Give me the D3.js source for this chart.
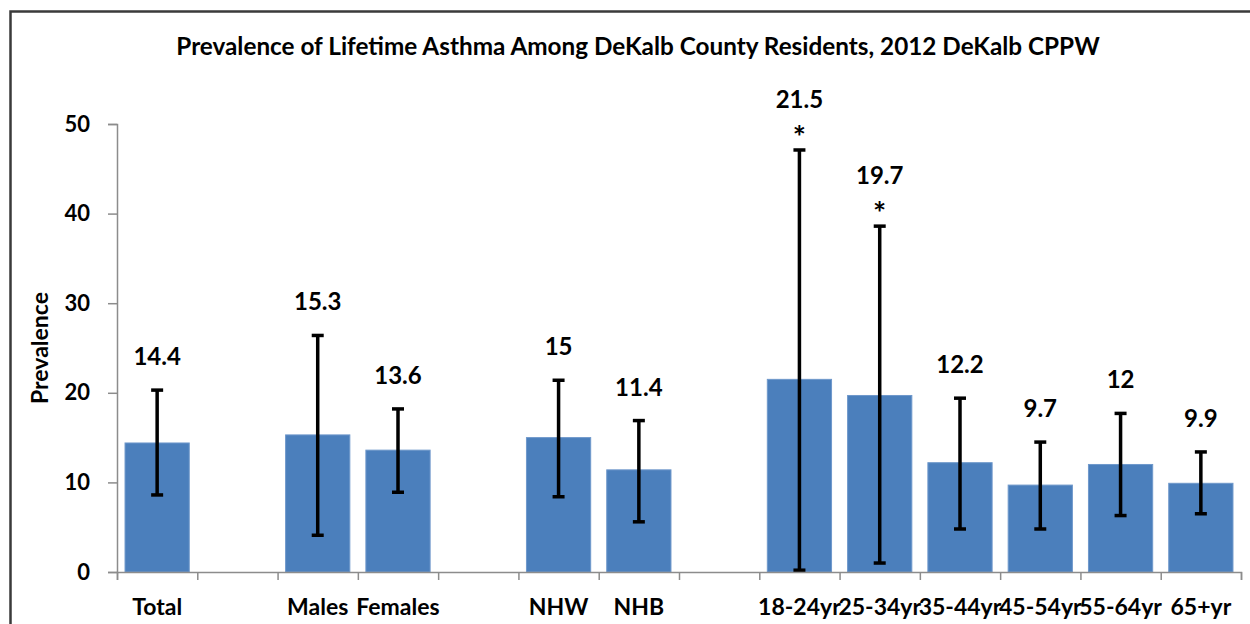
<!DOCTYPE html>
<html>
<head>
<meta charset="utf-8">
<script src="https://cdn.jsdelivr.net/npm/d3@7"></script>
<style>
  body { margin: 0; background: #fff; }
  text { font-family: Lato, "Open Sans", sans-serif; font-weight: bold; fill: #000; }
</style>
</head>
<body>
<div id="chart"></div>
<script>
// chart data
var categories = ["Total", "", "Males", "Females", "", "NHW", "NHB", "",
  "18-24yr", "25-34yr", "35-44yr", "45-54yr", "55-64yr", "65+yr"];
var prevalence = [14.4, null, 15.3, 13.6, null, 15, 11.4, null, 21.5, 19.7, 12.2, 9.7, 12, 9.9];
var ciLower = [8.6, null, 4.1, 8.9, null, 8.4, 5.6, null, 0.2, 1.0, 4.8, 4.8, 6.3, 6.5];
var ciUpper = [20.3, null, 26.4, 18.2, null, 21.4, 16.9, null, 47.1, 38.6, 19.4, 14.5, 17.7, 13.4];
var flags = ["", "", "", "", "", "", "", "", "*", "*", "", "", "", ""];
var valueLabels = ["14.4", "", "15.3", "13.6", "", "15", "11.4", "", "21.5", "19.7", "12.2", "9.7", "12", "9.9"];
var yTicks = [0, 10, 20, 30, 40, 50];

var svgWidth = 1250;
var svgHeight = 624;

var margin = { top: 124, right: 9, bottom: 52, left: 117 };
var width = svgWidth - margin.left - margin.right;
var height = svgHeight - margin.top - margin.bottom;

var svg = d3.select("#chart")
  .append("svg")
  .attr("width", svgWidth)
  .attr("height", svgHeight);

// outer frame (runs off the right and bottom edges)
svg.append("rect")
  .attr("x", 10.5)
  .attr("y", 11.5)
  .attr("width", 1300)
  .attr("height", 700)
  .attr("fill", "none")
  .attr("stroke", "#3a3a3a")
  .attr("stroke-width", 2.5);

svg.append("text")
  .attr("x", 638)
  .attr("y", 55)
  .attr("text-anchor", "middle")
  .style("font-size", "24.3px")
  .text("Prevalence of Lifetime Asthma Among DeKalb County Residents, 2012 DeKalb CPPW");

var chartGroup = svg.append("g")
  .attr("transform", `translate(${margin.left}, ${margin.top})`);

var idx = d3.range(categories.length);

var x = d3.scaleBand()
  .domain(idx)
  .range([0, width])
  .paddingInner(0.2)
  .paddingOuter(0.1);

// slot edges for the tick marks
var xEdge = d3.scaleLinear()
  .domain([0, categories.length])
  .range([0, width]);

var y = d3.scaleLinear()
  .domain([0, 50])
  .range([height, 0]);

// y axis
var leftAxis = d3.axisLeft(y)
  .tickValues(yTicks)
  .tickSize(9)
  .tickPadding(18);

var yAxis = chartGroup.append("g").call(leftAxis);
yAxis.selectAll("text")
  .style("font-size", "22px")
  .style("font-family", "Lato, sans-serif");

// bars
var data = idx.filter(i => prevalence[i] !== null);

chartGroup.selectAll(".bar")
  .data(data)
  .enter()
  .append("rect")
  .attr("class", "bar")
  .attr("x", i => x(i))
  .attr("y", i => y(prevalence[i]))
  .attr("width", x.bandwidth())
  .attr("height", i => height - y(prevalence[i]))
  .attr("fill", "#4b7fbc")
  .attr("stroke", "#6f98cb")
  .attr("stroke-width", 1);

// error bars
var errGroup = chartGroup.selectAll(".err")
  .data(data)
  .enter()
  .append("g")
  .attr("class", "err")
  .attr("stroke", "#000")
  .attr("stroke-width", 3.5);

errGroup.append("line")
  .attr("x1", i => x(i) + x.bandwidth() / 2)
  .attr("x2", i => x(i) + x.bandwidth() / 2)
  .attr("y1", i => y(ciLower[i]))
  .attr("y2", i => y(ciUpper[i]));

errGroup.append("line")
  .attr("x1", i => x(i) + x.bandwidth() / 2 - 6)
  .attr("x2", i => x(i) + x.bandwidth() / 2 + 6)
  .attr("y1", i => y(ciUpper[i]))
  .attr("y2", i => y(ciUpper[i]));

errGroup.append("line")
  .attr("x1", i => x(i) + x.bandwidth() / 2 - 6)
  .attr("x2", i => x(i) + x.bandwidth() / 2 + 6)
  .attr("y1", i => y(ciLower[i]))
  .attr("y2", i => y(ciLower[i]));

// x axis
var bottomAxis = d3.axisBottom(xEdge)
  .tickValues(d3.range(categories.length + 1))
  .tickSize(8)
  .tickFormat("");

chartGroup.append("g")
  .attr("transform", `translate(0, ${height})`)
  .call(bottomAxis);

chartGroup.selectAll(".domain, .tick line")
  .attr("stroke", "#8c8c8c")
  .attr("stroke-width", 1.5);

chartGroup.selectAll(".xlabel")
  .data(idx)
  .enter()
  .append("text")
  .attr("class", "xlabel")
  .attr("x", i => x(i) + x.bandwidth() / 2)
  .attr("y", height + 43)
  .attr("text-anchor", "middle")
  .style("font-size", "23px")
  .text(i => categories[i]);

// value labels and asterisks above the error bars
chartGroup.selectAll(".vlabel")
  .data(data)
  .enter()
  .append("text")
  .attr("class", "vlabel")
  .attr("x", i => x(i) + x.bandwidth() / 2)
  .attr("y", i => y(ciUpper[i]) - (flags[i] ? 42 : 25))
  .attr("text-anchor", "middle")
  .style("font-size", "24px")
  .text(i => valueLabels[i]);

chartGroup.selectAll(".flag")
  .data(data.filter(i => flags[i]))
  .enter()
  .append("text")
  .attr("class", "flag")
  .attr("x", i => x(i) + x.bandwidth() / 2)
  .attr("y", i => y(ciUpper[i]) - 2)
  .attr("text-anchor", "middle")
  .style("font-size", "31px")
  .text(i => flags[i]);

// y axis title
chartGroup.append("text")
  .attr("transform", "rotate(-90)")
  .attr("x", 0 - (height / 2))
  .attr("y", 48 - margin.left)
  .attr("text-anchor", "middle")
  .style("font-size", "23px")
  .text("Prevalence");
</script>
</body>
</html>
